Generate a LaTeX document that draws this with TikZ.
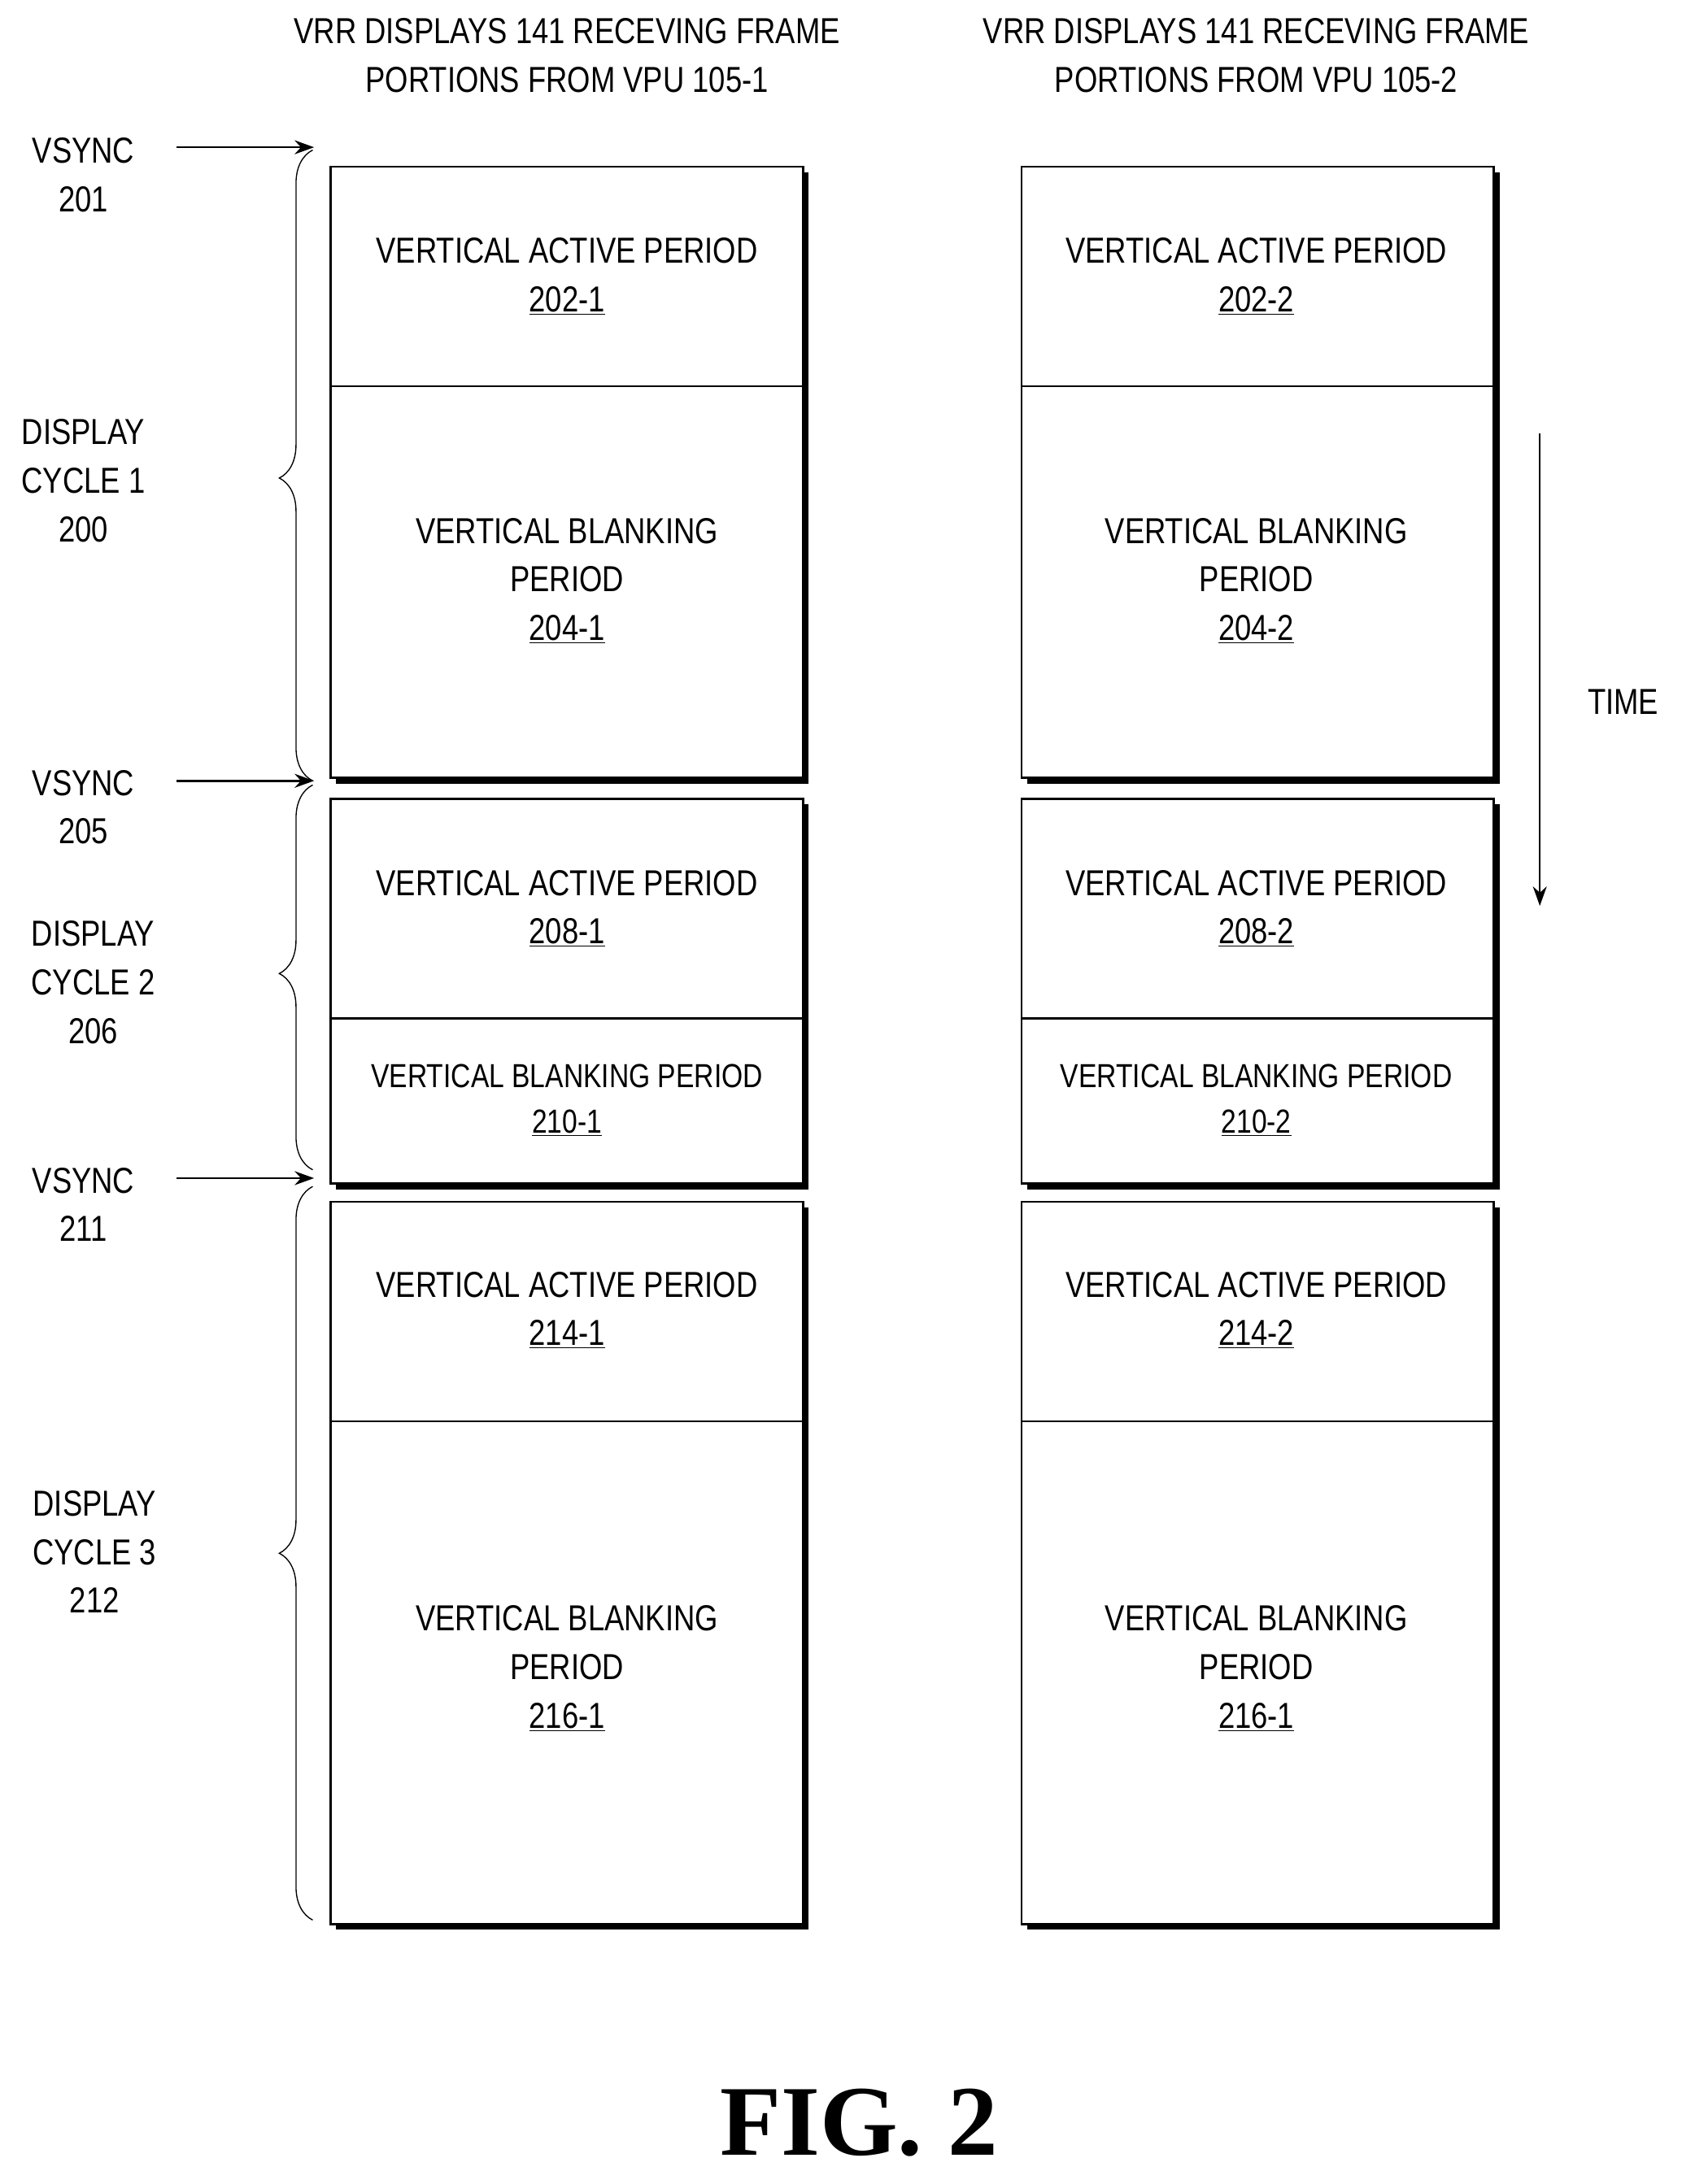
\documentclass[tikz,border=0pt]{standalone}
\usepackage{fontspec}
\setmainfont{Liberation Sans}[FakeStretch=0.82]
\newfontfamily\figfont{Liberation Serif}
\usetikzlibrary{decorations.pathreplacing,arrows.meta}
\begin{document}
\begin{tikzpicture}[x=1pt,y=-1pt,
  txt/.style={font=\fontsize{26}{35}\selectfont,align=center,inner sep=0},
  box/.style={draw,line width=1.6pt,fill=white},
  shadow/.style={fill=black},
  brc/.style={decorate,decoration={brace,amplitude=24pt,aspect=#1},line width=0.8pt},
  arr/.style={-{Stealth[length=14pt,width=10pt]},line width=1.6pt}]
\useasboundingbox (0,0) rectangle (1210,1572);
% header
\node[txt] (h1) at (408,40) {VRR DISPLAYS 141 RECEVING FRAME\\PORTIONS FROM VPU 105-1};
\node[txt] (h2) at (904,40) {VRR DISPLAYS 141 RECEVING FRAME\\PORTIONS FROM VPU 105-2};
% boxes
\foreach \x/\s in {238/1,735/2}{
  \foreach \a/\b in {120/560,575/852,865/1385}{
    \fill[shadow] (\x+4,\a+4) rectangle (\x+344,\b+4);
    \draw[box] (\x,\a) rectangle (\x+340,\b);
  }
  \draw[line width=1.6pt] (\x,278) -- (\x+340,278);
  \draw[line width=1.6pt] (\x,733) -- (\x+340,733);
  \draw[line width=1.6pt] (\x,1023) -- (\x+340,1023);
}
\foreach \x/\s in {408/1,904/2}{
  \node[txt] (va1\s) at (\x,199) {VERTICAL ACTIVE PERIOD\\\underline{202-\s}};
  \node[txt] (vb1\s) at (\x,418) {VERTICAL BLANKING\\PERIOD\\\underline{204-\s}};
  \node[txt] (va2\s) at (\x,654) {VERTICAL ACTIVE PERIOD\\\underline{208-\s}};
  \node[txt,font=\fontsize{24}{33}\selectfont] (vb2\s) at (\x,792) {VERTICAL BLANKING PERIOD\\\underline{210-\s}};
  \node[txt] (va3\s) at (\x,943) {VERTICAL ACTIVE PERIOD\\\underline{214-\s}};
  \node[txt] (vb3\s) at (\x,1201) {VERTICAL BLANKING\\PERIOD\\\underline{216-1}};
}
% vsync
\node[txt] (vs1) at (60,126) {VSYNC\\201};
\node[txt] (vs2) at (60,581) {VSYNC\\205};
\node[txt] (vs3) at (60,867) {VSYNC\\211};
\coordinate (t1) at (226,106); \coordinate (t2) at (226,562); \coordinate (t3) at (226,848);
\draw[arr] (127,106) -- (t1);
\draw[arr] (127,562) -- (t2);
\draw[arr] (127,848) -- (t3);
% braces
\draw[brc=0.48] (225,562) -- (225,108);
\draw[brc=0.51] (225,842) -- (225,565);
\draw[brc=0.50] (225,1382) -- (225,854);
\node[txt] (dc1) at (60,346) {DISPLAY\\CYCLE 1\\200};
\node[txt] (dc2) at (67,707) {DISPLAY\\CYCLE 2\\206};
\node[txt] (dc3) at (68,1117) {DISPLAY\\CYCLE 3\\212};
% time
\coordinate (ts) at (1108,312); \coordinate (te) at (1108,652);
\draw[arr,line width=1.2pt] (ts) -- (te);
\node[txt] (time) at (1168,505) {TIME};
% fig
\node[inner sep=0,font=\figfont\bfseries\fontsize{72}{72}\selectfont] (fig) at (618,1528) {FIG. 2};
\end{tikzpicture}
\end{document}
